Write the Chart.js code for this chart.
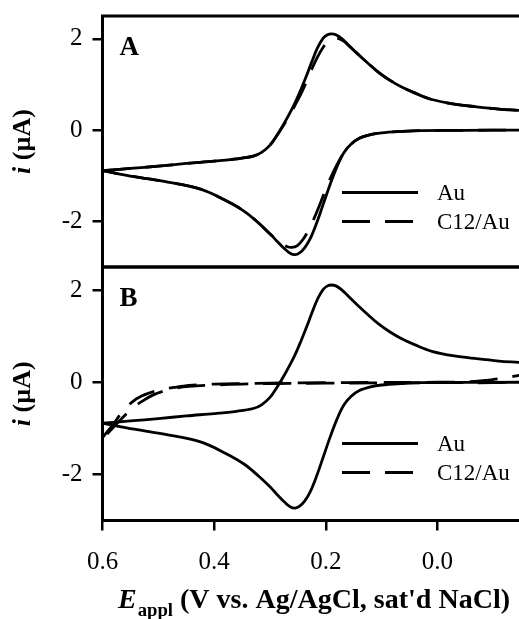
<!DOCTYPE html>
<html><head><meta charset="utf-8">
<script src="https://cdn.jsdelivr.net/npm/chart.js@4.4.0/dist/chart.umd.min.js"></script>
<style>
html,body{margin:0;padding:0;background:#fff;}
#wrap{position:relative;width:519px;height:619px;overflow:hidden;background:#fff;}
canvas{position:absolute;left:0;top:0;}
</style></head><body>
<div id="wrap"><canvas id="cA" width="519" height="619"></canvas><canvas id="cB" width="519" height="619"></canvas></div>
<script>
// ---- tick values ----
const xTicks = [0.6, 0.4, 0.2, 0.0];
const yTicks = [-2, 0, 2];

// ---- Au electrode (panels A and B): forward (upper) branch ----
const auFwdE = [0.60,0.55,0.50,0.45,0.40,0.36,0.33,0.315,0.30,0.288,0.276,0.265,0.255,0.245,0.235,0.225,0.215,0.205,0.197,0.19,0.182,0.172,0.16,0.143,0.125,0.105,0.085,0.065,0.04,0.01,-0.03,-0.07,-0.11,-0.146,-0.20];
const auFwdI = [-0.89,-0.84,-0.79,-0.73,-0.68,-0.63,-0.57,-0.49,-0.33,-0.12,0.12,0.36,0.60,0.88,1.18,1.50,1.80,2.01,2.09,2.11,2.09,2.01,1.87,1.67,1.47,1.26,1.09,0.95,0.81,0.67,0.57,0.51,0.46,0.43,0.38];
// ---- Au electrode: reverse (lower) branch ----
const auRevE = [-0.20,-0.146,-0.05,0.03,0.066,0.10,0.12,0.14,0.155,0.168,0.18,0.192,0.204,0.216,0.228,0.238,0.247,0.255,0.264,0.274,0.287,0.30,0.32,0.346,0.38,0.423,0.483,0.543,0.60];
const auRevI = [0.0,0.0,-0.005,-0.01,-0.03,-0.06,-0.1,-0.18,-0.31,-0.5,-0.8,-1.18,-1.6,-2.02,-2.38,-2.58,-2.69,-2.73,-2.70,-2.60,-2.44,-2.27,-2.04,-1.78,-1.54,-1.30,-1.14,-1.02,-0.89];

// ---- C12/Au, panel A ----
const c12aFwdE = [0.60,0.55,0.50,0.45,0.40,0.36,0.33,0.315,0.30,0.288,0.276,0.265,0.255,0.245,0.235,0.225,0.215,0.205,0.195,0.186,0.178,0.168,0.158,0.143,0.125,0.105,0.085,0.065,0.04,0.01,-0.03,-0.07,-0.11,-0.146,-0.20];
const c12aFwdI = [-0.89,-0.84,-0.79,-0.73,-0.68,-0.63,-0.57,-0.49,-0.33,-0.13,0.10,0.32,0.55,0.78,1.05,1.34,1.60,1.81,1.95,2.01,2.01,1.95,1.84,1.67,1.47,1.26,1.09,0.95,0.81,0.67,0.57,0.51,0.46,0.43,0.38];
const c12aRevE = [-0.20,-0.146,-0.05,0.03,0.066,0.10,0.12,0.14,0.155,0.168,0.18,0.192,0.204,0.216,0.228,0.24,0.251,0.261,0.27,0.28,0.292,0.305,0.32,0.346,0.38,0.423,0.483,0.543,0.60];
const c12aRevI = [0.0,0.0,-0.005,-0.01,-0.03,-0.06,-0.1,-0.18,-0.31,-0.5,-0.76,-1.06,-1.42,-1.79,-2.12,-2.38,-2.53,-2.57,-2.55,-2.48,-2.36,-2.22,-2.04,-1.78,-1.54,-1.30,-1.14,-1.02,-0.89];

// ---- C12/Au, panel B ----
const c12bFwdE = [0.60,0.59,0.58,0.565,0.547,0.53,0.51,0.49,0.47,0.445,0.42,0.38,0.35,0.30,0.20,0.10,0.0,-0.05,-0.077,-0.10,-0.125,-0.146,-0.20];
const c12bFwdI = [-1.2,-1.05,-0.9,-0.65,-0.43,-0.3,-0.21,-0.15,-0.11,-0.07,-0.05,-0.035,-0.03,-0.02,-0.01,-0.005,0.0,0.01,0.03,0.06,0.1,0.15,0.25];
const c12bRevE = [-0.20,-0.146,-0.10,0.0,0.10,0.20,0.30,0.35,0.40,0.445,0.47,0.49,0.51,0.53,0.547,0.565,0.58,0.59,0.60];
const c12bRevI = [0.0,0.0,-0.01,-0.01,-0.015,-0.02,-0.03,-0.04,-0.06,-0.09,-0.13,-0.19,-0.28,-0.42,-0.57,-0.78,-0.97,-1.1,-1.22];

const seriesLabels = ['Au', 'C12/Au'];

const SERIF = '"Liberation Serif", "Times New Roman", Times, serif';
const DASH = [28, 15];
const LW = 2.8;

function pts(E, I) { return E.map((e, k) => ({x: e, y: I[k]})); }
function ds(label, E, I, dashed) {
  return {label, data: pts(E, I), showLine: true, borderColor: '#000', borderWidth: LW,
    borderDash: dashed ? DASH : [], pointRadius: 0, tension: 0.35, fill: false};
}

const panelPlugin = {
  id: 'panelDeco',
  afterDraw(chart, args, opts) {
    const ctx = chart.ctx, a = chart.chartArea;
    ctx.save();
    ctx.strokeStyle = '#000'; ctx.lineWidth = 3; ctx.setLineDash([]);
    ctx.beginPath();
    ctx.moveTo(a.left - 1.5, a.top); ctx.lineTo(a.right, a.top);
    if (opts.bottomLine) { ctx.moveTo(a.left - 1.5, a.bottom); ctx.lineTo(a.right, a.bottom); }
    ctx.stroke();
    // panel letter
    ctx.fillStyle = '#000';
    ctx.font = 'bold 27px ' + SERIF;
    ctx.textAlign = 'left'; ctx.textBaseline = 'alphabetic';
    ctx.fillText(opts.letter, a.left + 17, a.top + 39);
    // legend
    const entries = [];
    chart.data.datasets.forEach(d => { if (!entries.find(e => e.label === d.label)) entries.push(d); });
    entries.forEach((d, k) => {
      const y = a.top + 176.5 + k * 29;
      ctx.lineWidth = LW;
      ctx.setLineDash(d.borderDash || []);
      ctx.beginPath(); ctx.moveTo(a.left + 239.5, y); ctx.lineTo(a.left + 315.5, y); ctx.stroke();
      ctx.setLineDash([]);
      ctx.font = '23px ' + SERIF;
      ctx.fillText(d.label, a.left + 334.5, y + 7.5);
    });
    // y-axis title: i (µA)
    const cy = (a.top + a.bottom) / 2;
    ctx.translate(23, cy); ctx.rotate(-Math.PI / 2);
    ctx.textBaseline = 'middle';
    const f1 = 'italic bold 26px ' + SERIF, f2 = 'bold 26px ' + SERIF;
    ctx.font = f1; const w1 = ctx.measureText('i').width;
    ctx.font = f2; const w2 = ctx.measureText(' (µA)').width;
    const x0 = -(w1 + w2) / 2;
    ctx.font = f1; ctx.fillText('i', x0, 0);
    ctx.font = f2; ctx.fillText(' (µA)', x0 + w1, 0);
    ctx.restore();
    // x-axis title
    if (opts.xTitle) {
      ctx.save();
      ctx.fillStyle = '#000'; ctx.textAlign = 'left'; ctx.textBaseline = 'alphabetic';
      const fE = 'italic bold 27px ' + SERIF, fs = 'bold 18px ' + SERIF, fr = 'bold 27px ' + SERIF;
      const rest = ' (V vs. Ag/AgCl, sat\'d NaCl)';
      ctx.font = fE; const wE = ctx.measureText('E').width;
      ctx.font = fs; const ws = ctx.measureText('appl').width;
      ctx.font = fr; const wr = ctx.measureText(rest).width;
      const total = wE + 1 + ws + wr;
      const sx = (510 - 118) / total;
      ctx.translate(118, 608); ctx.scale(sx, 1);
      ctx.font = fE; ctx.fillText('E', 0, 0);
      ctx.font = fs; ctx.fillText('appl', wE + 1, 8);
      ctx.font = fr; ctx.fillText(rest, wE + 1 + ws, 0);
      ctx.restore();
    }
  }
};

function makeChart(id, datasets, isB) {
  return new Chart(document.getElementById(id), {
    type: 'scatter',
    data: {datasets},
    options: {
      responsive: false, animation: false, devicePixelRatio: 1, events: [],
      layout: {autoPadding: false, padding: {top: isB ? 267 : 16, bottom: isB ? 0 : 352, left: 0, right: 0}},
      plugins: {
        legend: {display: false}, tooltip: {enabled: false},
        panelDeco: {letter: isB ? 'B' : 'A', bottomLine: !isB, xTitle: isB}
      },
      scales: {
        x: {
          type: 'linear', reverse: true, min: -0.146, max: 0.6, display: isB,
          afterBuildTicks: s => { s.ticks = xTicks.map(v => ({value: v})); },
          afterFit: s => { s.height = isB ? 98.5 : 0; s.paddingLeft = 0; s.paddingRight = 0; },
          grid: {drawOnChartArea: false, drawTicks: true, tickLength: 10, color: '#000', lineWidth: 2.5},
          border: {display: true, color: '#000', width: 3},
          ticks: {font: {family: SERIF, size: 25}, color: '#000', padding: 17, maxRotation: 0,
                  callback: v => Number(v).toFixed(1)}
        },
        y: {
          type: 'linear', min: -3, max: 2.5,
          afterBuildTicks: s => { s.ticks = yTicks.map(v => ({value: v})); },
          afterFit: s => { s.width = 102.5; s.paddingTop = 0; s.paddingBottom = 0; },
          grid: {drawOnChartArea: false, drawTicks: true, tickLength: 10, color: '#000', lineWidth: 2.5},
          border: {display: true, color: '#000', width: 3},
          ticks: {font: {family: SERIF, size: 25}, color: '#000', padding: 10,
                  callback: v => String(v)}
        }
      }
    },
    plugins: [panelPlugin]
  });
}

makeChart('cA', [
  ds(seriesLabels[0], auFwdE, auFwdI, false),
  ds(seriesLabels[0], auRevE, auRevI, false),
  ds(seriesLabels[1], c12aFwdE, c12aFwdI, true),
  ds(seriesLabels[1], c12aRevE, c12aRevI, true)
], false);

makeChart('cB', [
  ds(seriesLabels[0], auFwdE, auFwdI, false),
  ds(seriesLabels[0], auRevE, auRevI, false),
  ds(seriesLabels[1], c12bFwdE, c12bFwdI, true),
  ds(seriesLabels[1], c12bRevE, c12bRevI, true)
], true);
</script>
</body></html>
